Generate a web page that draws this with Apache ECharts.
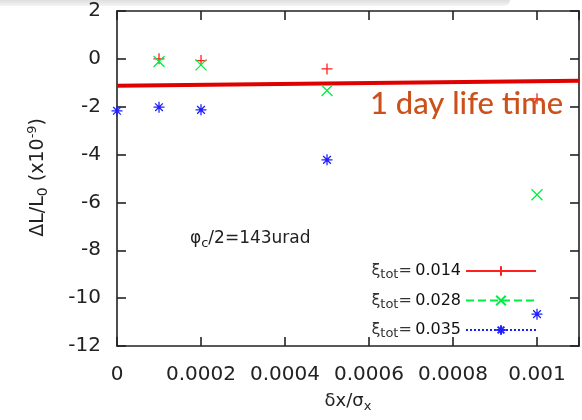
<!DOCTYPE html>
<html><head><meta charset="utf-8">
<script src="https://cdn.jsdelivr.net/npm/echarts@6/dist/echarts.min.js"></script>
<style>html,body{margin:0;padding:0;background:#fff}#c{width:582px;height:420px}</style>
</head><body><div id="c"></div>
<script>
// ---- data ----
const xValues = [0, 0.0001, 0.0002, 0.0005, 0.001];
const xi014 = [null, 0.0, -0.07, -0.42, -1.67];
const xi028 = [null, -0.11, -0.25, -1.32, -5.68];
const xi035 = [-2.17, -2.02, -2.13, -4.22, -10.67];
const seriesNames = ['0.014', '0.028', '0.035'];
const lifetimeX = [0, 0.0011];
const lifetimeY = [-1.12, -0.915];
const xTicks = [0, 0.0002, 0.0004, 0.0006, 0.0008, 0.001];
const yTicks = [2, 0, -2, -4, -6, -8, -10, -12];

const pair = (xs, ys) => xs.map((x, i) => [x, ys[i]]).filter(p => p[1] !== null);

const F = '"DejaVu Sans", "Liberation Sans", sans-serif';
const plusPath = 'path://M0,5L10,5M5,0L5,10';
const crossPath = 'path://M0,0L10,10M10,0L0,10';
const starPath = 'path://M0,5L10,5M5,0L5,10M1.5,1.5L8.5,8.5M8.5,1.5L1.5,8.5';

function mk(name, data, color, sym, dash) {
  return {
    name, type: 'line', data, symbol: sym, symbolSize: 11, symbolKeepAspect: true,
    showSymbol: true, silent: true,
    itemStyle: { color: 'rgba(0,0,0,0)', borderColor: color, borderWidth: 1.3 },
    lineStyle: { color: color, opacity: 0, width: 1, type: dash },
    z: 3
  };
}

const chart = echarts.init(document.getElementById('c'), null, { renderer: 'canvas' });
const axisLine = { show: true, onZero: false, lineStyle: { color: '#222', width: 1.6 } };
const tick = { show: true, inside: true, length: 9, lineStyle: { color: '#222', width: 1.6 } };
chart.setOption({
  animation: false,
  backgroundColor: '#fff',
  grid: { left: 117, top: 11, right: -9, bottom: 74, containLabel: false },
  xAxis: [{
    type: 'value', min: 0, max: 0.0011, interval: 0.0002, position: 'bottom',
    axisLine, axisTick: tick, splitLine: { show: false },
    axisLabel: {
      margin: 19, color: '#222', fontFamily: F, fontSize: 20,
      formatter: v => xTicks.some(t => Math.abs(t - v) < 1e-9) ? String(+v.toFixed(4)) : ''
    },
    name: '{a|δx/σ}{b|x}', nameLocation: 'middle', nameGap: 44,
    nameTextStyle: { rich: {
      a: { fontFamily: F, fontSize: 18, color: '#222' },
      b: { fontFamily: F, fontSize: 13, color: '#222', verticalAlign: 'bottom', padding: [10, 0, 0, 0] }
    } }
  }, {
    type: 'value', min: 0, max: 0.0011, interval: 0.0002, position: 'top',
    axisLine, axisTick: tick, axisLabel: { show: false }, splitLine: { show: false }
  }],
  yAxis: [{
    type: 'value', min: -12, max: 2, interval: 2, position: 'left',
    axisLine, axisTick: tick, splitLine: { show: false },
    axisLabel: { margin: 16, color: '#222', fontFamily: F, fontSize: 20,
      formatter: v => yTicks.includes(v) ? String(v) : '' }
  }, {
    type: 'value', min: -12, max: 2, interval: 2, position: 'right',
    axisLine, axisTick: tick, axisLabel: { show: false }, splitLine: { show: false }
  }],
  legend: {
    orient: 'vertical', right: 45, top: 263, align: 'right',
    itemWidth: 70, itemHeight: 12, itemGap: 11, padding: 0,
    data: seriesNames.map(n => ({ name: n, lineStyle: { opacity: 1 } })),
    formatter: n => '{g|ξ}{s|tot}{g|=} {v|' + n + '}',
    textStyle: { rich: {
      g: { fontFamily: F, fontSize: 16, color: '#333' },
      s: { fontFamily: F, fontSize: 13, color: '#333', padding: [8, 0, 0, 0] },
      v: { fontFamily: F, fontSize: 16, color: '#111' }
    } }
  },
  graphic: [
    { type: 'rect', left: 0, top: 0, z: -10, shape: { width: 510, height: 6, r: [0, 0, 6, 0] },
      style: { fill: new echarts.graphic.LinearGradient(0, 0, 0, 1, [
        { offset: 0, color: '#dedede' }, { offset: 1, color: '#f4f4f4' }]) } },
    { type: 'text', left: 370, top: 88, z: 10,
      style: { text: '1 day life time', fill: '#cc501a', font: '500 31px Lato, "Open Sans", sans-serif' } },
    { type: 'text', left: 190, top: 230, z: 10,
      style: { text: '{a|φ}{b|c}{a|/2=143urad}', rich: {
        a: { fontFamily: F, fontSize: 17, fill: '#222' },
        b: { fontFamily: F, fontSize: 13, fill: '#222', padding: [10, 0, 0, 0] } } } },
    { type: 'text', left: 26, top: 118, rotation: Math.PI / 2, z: 10,
      style: { text: '{a|ΔL/L}{b|0}{a| (x10}{c|-9}{a|)}', rich: {
        a: { fontFamily: F, fontSize: 19, fill: '#222' },
        b: { fontFamily: F, fontSize: 14, fill: '#222', padding: [10, 0, 0, 0] },
        c: { fontFamily: F, fontSize: 13, fill: '#222', padding: [0, 0, 11, 0] } } } }
  ],
  series: [
    mk(seriesNames[0], pair(xValues, xi014), '#ff2020', plusPath, 'solid'),
    mk(seriesNames[1], pair(xValues, xi028), '#00ee44', crossPath, 'dashed'),
    mk(seriesNames[2], pair(xValues, xi035), '#2020ff', starPath, 'dotted'),
    { name: 'lifetime', type: 'line', data: pair(lifetimeX, lifetimeY), symbol: 'none', silent: true,
      lineStyle: { color: '#e00000', width: 4 }, z: 2 }
  ]
});
</script></body></html>
